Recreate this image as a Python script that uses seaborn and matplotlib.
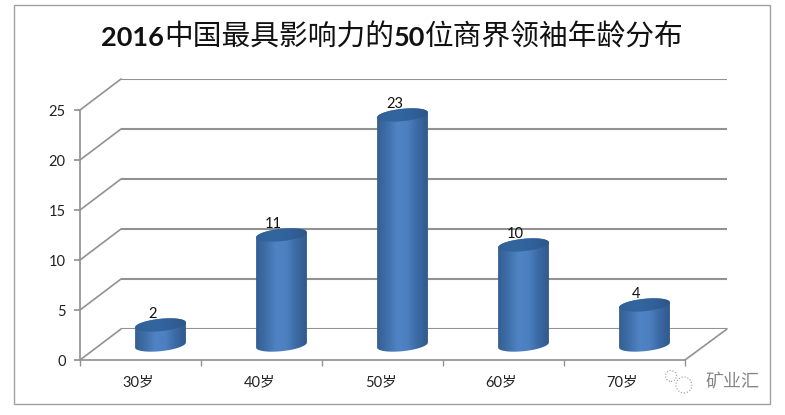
import matplotlib
matplotlib.use("Agg")
import matplotlib.pyplot as plt
import numpy as np
import pandas as pd
import seaborn as sns
from matplotlib.colors import LinearSegmentedColormap
from matplotlib.patches import ConnectionPatch, Circle, Polygon, Rectangle
from matplotlib.transforms import ScaledTranslation

ages = ["30岁", "40岁", "50岁", "60岁", "70岁"]
counts = [2, 11, 23, 10, 4]
y_ticks = [0, 5, 10, 15, 20, 25]
title_parts = [("2016", "bold"), ("中国最具影响力的", "regular"), ("50", "bold"), ("位商界领袖年龄分布", "regular")]

W, H = 785, 415
GREY = "#929292"

sns.set_theme(style="white")
plt.rcParams["font.family"] = ["Lato", "Noto Sans CJK SC", "DejaVu Sans"]


def axes_rect(left, base, width, height):
    # pixel box (y measured from the top of the image) to figure fractions
    return [left / W, (H - base) / H, width / W, height / H]


fig = plt.figure(figsize=(W / 100, H / 100), dpi=100)
fig.patches.append(Rectangle((13.5 / W, 1 - 404 / H), 756.5 / W, 398.5 / H, transform=fig.transFigure,
                             fill=False, ec="#a0a0a0", lw=1.0))

# the 3D look is three axes on the same scale: back wall, bars at mid depth, front axis
back = fig.add_axes(axes_rect(121, 329, 606, 250), zorder=1)
front = fig.add_axes(axes_rect(80, 360, 605, 250), zorder=2)
mid = fig.add_axes(axes_rect(100, 345, 605, 250), zorder=3)

for a in (back, front, mid):
    a.set_xlim(-0.5, 4.5)
    a.set_ylim(0, 25)
    a.patch.set_visible(False)
    sns.despine(ax=a, left=True, bottom=True, top=True, right=True)

back.set_yticks(y_ticks)
back.set_xticks([])
back.tick_params(left=False, labelleft=False)
back.grid(axis="y", color=GREY, lw=1.5)

front.spines["left"].set_visible(True)
front.spines["bottom"].set_visible(True)
front.spines["left"].set_color(GREY)
front.spines["bottom"].set_color(GREY)
front.set_yticks(y_ticks)
front.set_xticks(range(len(ages)), ages)
front.set_xticks(np.arange(-0.5, 5), minor=True)
front.tick_params(axis="y", left=True, length=4.3, color=GREY, labelsize=10.5, labelcolor="#222222", pad=6)
front.tick_params(axis="x", which="major", length=0, labelsize=10.5, labelcolor="#222222", pad=11)
front.tick_params(axis="x", which="minor", bottom=True, length=4, color=GREY)
shift = ScaledTranslation(-2 / 100, 0, fig.dpi_scale_trans)
for label in front.get_xticklabels():
    label.set_transform(label.get_transform() + shift)

# floor and wall diagonals
for v in y_ticks:
    fig.add_artist(ConnectionPatch((-0.5, v), (-0.5, v), coordsA=front.transData, coordsB=back.transData,
                                   color=GREY, lw=1.2))
fig.add_artist(ConnectionPatch((4.5, 0), (4.5, 0), coordsA=front.transData, coordsB=back.transData,
                               color=GREY, lw=1.2))

df = pd.DataFrame({"age": ages, "count": counts})
sns.barplot(data=df, x="age", y="count", ax=mid, width=0.42, color="#3f70ad")
mid.set_xlabel("")
mid.set_ylabel("")
mid.set_xticks([])
mid.set_yticks([])
mid.set_xlim(-0.5, 4.5)

body_cmap = LinearSegmentedColormap.from_list("body", ["#345f93", "#3f6fa9", "#4f83c4", "#4d80c0", "#3a6aa4", "#31598b"])
top_cmap = LinearSegmentedColormap.from_list("top", ["#315f96", "#33669f", "#31619a", "#2d5688"])
gradient = np.linspace(0, 1, 128).reshape(1, -1)
t = np.linspace(0, 2 * np.pi, 120)
half_h = 0.62
tilt = 0.25

for bar, value in zip(list(mid.patches), counts):
    bar.set_visible(False)
    x0, width = bar.get_x(), bar.get_width()
    cx = x0 + width / 2
    ex = cx + width / 2 * np.cos(t)
    ey = half_h * np.sin(t) + tilt * np.cos(t)

    # side of the cylinder: top ellipse, bottom ellipse and everything between
    hull = np.vstack([np.column_stack([ex[:61], ey[:61] + value]),
                      np.column_stack([ex[60:], ey[60:]])])
    clip = Polygon(hull, closed=True, transform=mid.transData)
    im = mid.imshow(gradient, extent=(x0, x0 + width, -1.5, value + 1.5), cmap=body_cmap,
                    aspect="auto", zorder=3)
    im.set_clip_path(clip)
    im.set_clip_box(fig.bbox)

    lid = Polygon(np.column_stack([ex, ey + value]), closed=True, transform=mid.transData)
    im = mid.imshow(gradient, extent=(x0, x0 + width, value - 1, value + 1), cmap=top_cmap,
                    aspect="auto", zorder=4)
    im.set_clip_path(lid)
    im.set_clip_box(fig.bbox)

    mid.annotate(str(value), (cx, value), xytext=(-8, 11), textcoords="offset pixels",
                 ha="center", va="center", fontsize=10.5, color="#111111", zorder=5, annotation_clip=False)

mid.set_xlim(-0.5, 4.5)
mid.set_ylim(0, 25)

# title is set piece by piece, digits bold and CJK regular
renderer = fig.canvas.get_renderer()
x = 101
for text, weight in title_parts:
    digits = weight == "bold"
    txt = fig.text(x / W, 1 - 46 / H, text, fontsize=19.5 if digits else 20.7, fontweight=weight,
                   family=["Lato", "DejaVu Sans"] if digits else ["Noto Sans CJK SC", "DejaVu Sans"],
                   color="#111111", va="baseline", ha="left")
    x += txt.get_window_extent(renderer).width

# watermark
fig.text(705 / W, 1 - 382 / H, "矿业汇", fontsize=13, color="#868686", va="center", ha="left",
         family=["Noto Sans CJK SC", "DejaVu Sans"])
for cx, cy, r in [(684, 385, 8), (671, 376, 5.5)]:
    fig.patches.append(Circle((cx, H - cy), r, transform=None, fill=False, ec="#9a9a9a", lw=0.8, ls=":"))

fig.savefig("out.png", dpi=100)
